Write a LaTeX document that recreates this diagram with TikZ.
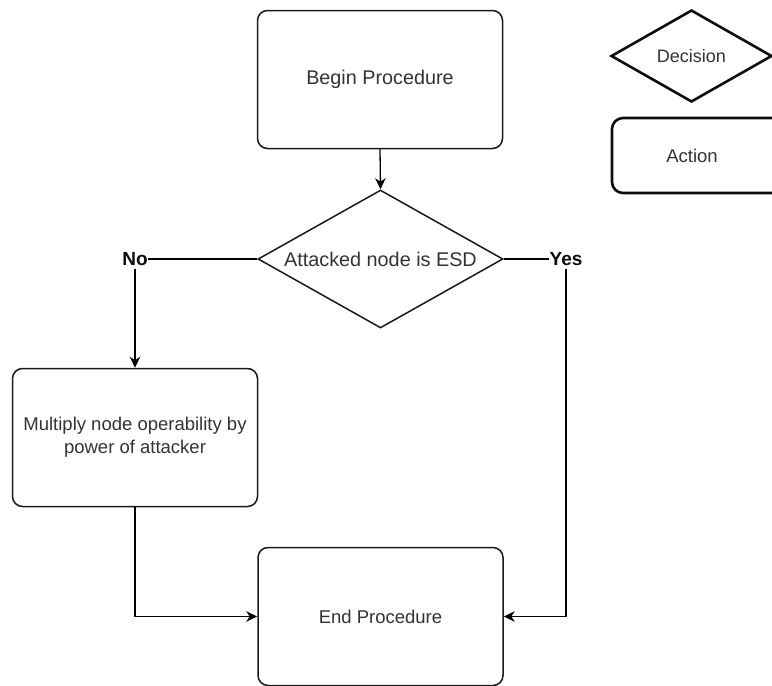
\documentclass[tikz,border=0pt]{standalone}
\usepackage{fontspec}
\setmainfont{Liberation Sans}
\usetikzlibrary{shapes.geometric,arrows.meta}
\begin{document}
\begin{tikzpicture}[x=1pt,y=-1pt,
  every node/.style={font=\fontsize{18.5}{23}\selectfont, text=black!80},
  big/.style={font=\fontsize{19.8}{24}\selectfont},
  actbox/.style={draw=black!90, line width=1.5pt, rounded corners=10pt,
    minimum width=245pt, minimum height=138pt, align=center, inner sep=0pt},
  decbox/.style={draw=black!90, line width=1.5pt, shape=diamond, aspect=1.77,
    minimum width=245pt, minimum height=138pt, inner sep=1pt},
  keyshape/.style={draw=black!95, line width=2.6pt},
  ans/.style={font=\fontsize{19}{23}\selectfont\bfseries, text=black!95,
    inner xsep=0.5pt, inner ysep=3pt},
  flow/.style={draw=black, line width=1.3pt},
  arr/.style={flow, -{Stealth[length=11pt,width=10.5pt,inset=3.5pt]}},
]
\useasboundingbox (0,0) rectangle (772,686);
\clip (0,0) rectangle (772,686);

% flowchart nodes
\node[actbox, big] (begin) at (380,79.5) {Begin Procedure};
\node[decbox, big] (dec) at (380.5,259) {Attacked node is ESD};
\node[actbox] (mult) at (135,437.5) {Multiply node operability by\\power of attacker};
\node[actbox] (end) at (380.5,616.5) {End Procedure};

% branch labels
\node[ans] (no) at (135,259) {No};
\node[ans] (yes) at (566,259) {Yes};

% connectors
\draw[arr] (begin.south) -- (dec.north);
\draw[flow] (dec.west) -- (no.east);
\draw[flow] (dec.east) -- (yes.west);
\draw[arr] (no.south) -- (mult.north);
\draw[arr] (mult.south) |- (end.west);
\draw[arr] (yes.south) |- (end.east);

% key
\node[keyshape, shape=diamond, aspect=1.75, minimum width=161pt,
  minimum height=92pt, inner sep=1pt, font=\fontsize{18}{22}\selectfont]
  (keydec) at (691.5,56) {Decision};
\node[keyshape, rounded corners=11pt, minimum width=176pt, minimum height=75pt,
  inner sep=0pt, label={[xshift=-8pt]center:Action}] (keyact) at (700,155.5) {};
\end{tikzpicture}
\end{document}
